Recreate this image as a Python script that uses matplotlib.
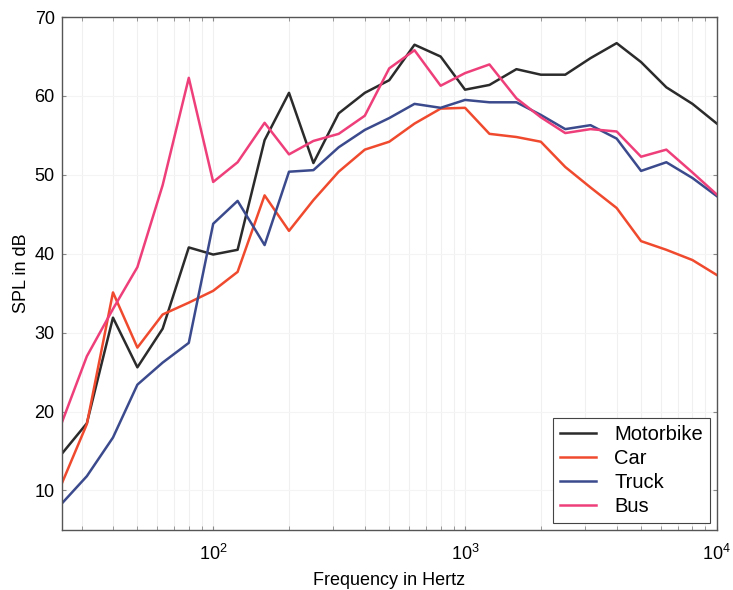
import numpy as np
import matplotlib.pyplot as plt
from matplotlib.ticker import LogLocator, NullFormatter

plt.rcParams['font.family'] = ['Liberation Sans', 'DejaVu Sans']
plt.rc('font', size=13)

# Terzne frekvence in ravni
freq = [25, 31.5, 40, 50, 63, 80, 100, 125, 160, 200, 250, 315, 400, 500,
        630, 800, 1000, 1250, 1600, 2000, 2500, 3150, 4000, 5000, 6300, 8000, 10000]

motorbike = [14.6, 18.5, 31.9, 25.6, 30.5, 40.8, 39.9, 40.5, 54.4, 60.4, 51.5, 57.8, 60.4, 62.0,
             66.5, 65.0, 60.8, 61.4, 63.4, 62.7, 62.7, 64.8, 66.7, 64.3, 61.1, 59.0, 56.5]
car = [10.8, 18.4, 35.1, 28.1, 32.3, 33.8, 35.3, 37.7, 47.4, 42.9, 46.8, 50.4, 53.2, 54.2,
       56.5, 58.4, 58.5, 55.2, 54.8, 54.2, 51.0, 48.4, 45.8, 41.6, 40.5, 39.2, 37.3]
truck = [8.3, 11.8, 16.7, 23.4, 26.2, 28.7, 43.8, 46.7, 41.1, 50.4, 50.6, 53.5, 55.7, 57.2,
         59.0, 58.5, 59.5, 59.2, 59.2, 57.6, 55.8, 56.3, 54.6, 50.5, 51.6, 49.6, 47.3]
bus = [18.5, 27.0, 33.0, 38.3, 48.7, 62.3, 49.1, 51.6, 56.6, 52.6, 54.3, 55.2, 57.5, 63.5,
       65.8, 61.3, 62.9, 64.0, 59.7, 57.3, 55.3, 55.8, 55.5, 52.3, 53.2, 50.3, 47.5]

fig = plt.figure(figsize=(7.33, 5.9), dpi=100)
ax = fig.add_axes([0.084, 0.102, 0.894, 0.869])

ax.plot(freq, motorbike, color='#2b2b2b', lw=1.8, label='Motorbike')
ax.plot(freq, car, color='#f04a2e', lw=1.8, label='Car')
ax.plot(freq, truck, color='#3b4a8c', lw=1.8, label='Truck')
ax.plot(freq, bus, color='#ee3f7a', lw=1.8, label='Bus')

ax.set_xscale('log')
ax.set_xlim(25, 10000)
ax.set_ylim(5, 70)
ax.set_yticks(range(10, 71, 10))
ax.xaxis.set_minor_locator(LogLocator(base=10, subs=np.arange(2, 10)))
ax.xaxis.set_minor_formatter(NullFormatter())
ax.tick_params(which='both', direction='in', top=True, right=True, length=3, color='#888888')
ax.tick_params(axis='y', pad=5)
ax.tick_params(axis='x', pad=10)
ax.grid(True, which='both', axis='x', color='#f0f0f0', lw=0.8)
ax.grid(True, which='major', axis='y', color='#f4f4f4', lw=0.8)
for s in ax.spines.values():
    s.set_color('#555555')
    s.set_linewidth(1.0)

ax.set_xlabel('Frequency in Hertz', labelpad=6)
ax.set_ylabel('SPL in dB', labelpad=3)

leg = ax.legend(loc='lower right', fancybox=False, framealpha=1, edgecolor='#444444',
                borderaxespad=0.35, handlelength=1.8, handletextpad=0.9,
                labelspacing=0.25, borderpad=0.35, fontsize=14.5)
leg.get_frame().set_linewidth(0.8)

plt.savefig('out.png', dpi=100)
